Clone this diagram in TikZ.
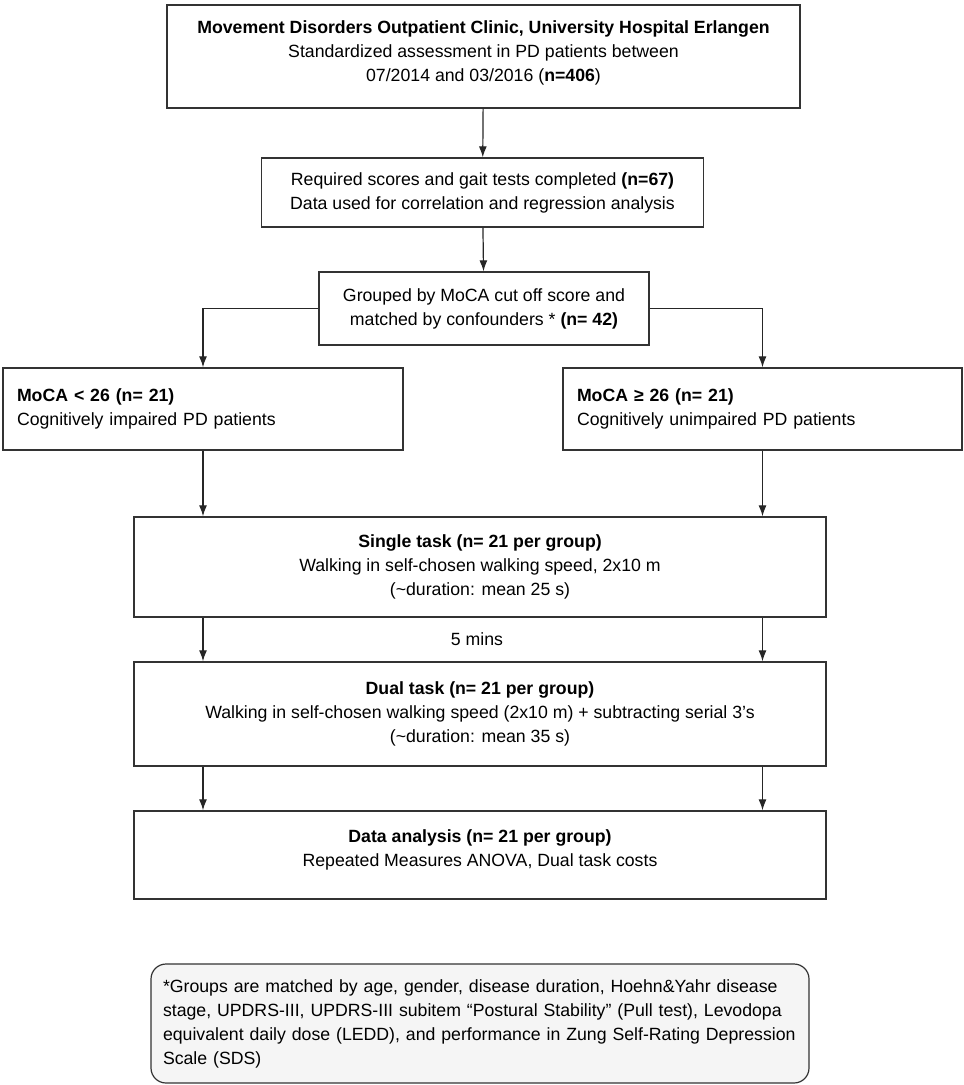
\documentclass[tikz,border=0pt]{standalone}
\usepackage{fontspec}
\setmainfont{Liberation Sans}
\usetikzlibrary{arrows.meta,positioning}

\begin{document}
\begin{tikzpicture}[x=1pt,y=-1pt,
  box/.style={draw=black!80,line width=1.4pt,align=center,inner sep=0pt,
    font=\fontsize{17.7pt}{24pt}\selectfont},
  leftbox/.style={box,align=left,inner xsep=14pt},
  arr/.style={line width=1.2pt,draw=black!85,-{Latex[length=11pt,width=8pt]}}]
\useasboundingbox (0,0) rectangle (964,1085);
%enrolment and selection
\node[box,minimum width=633pt,minimum height=103pt] (src) at (483.5,56.5)
  {\textbf{Movement Disorders Outpatient Clinic, University Hospital Erlangen}\\
   Standardized assessment in PD patients between\\
   07/2014 and 03/2016 (\textbf{n=406})\\[-14pt]};
\node[box,minimum width=442pt,minimum height=69pt] (req) at (482.5,192.5)
  {Required scores and gait tests completed \textbf{(n=67)}\\
   Data used for correlation and regression analysis};
\node[box,minimum width=330pt,minimum height=73pt] (grp) at (484,308.5)
  {Grouped by MoCA cut off score and\\
   matched by confounders * \textbf{(n= 42)}};
\draw[arr] (src) -- (req); \draw[arr] (req) -- (grp);
%the two MoCA groups
\node[leftbox,text width=372pt,minimum height=82pt] (low) at (203,409)
  {\textbf{MoCA < 26 (n= 21)}\\ Cognitively impaired PD patients\\[4pt]};
\node[leftbox,text width=371pt,minimum height=82pt] (high) at (762.5,409)
  {\textbf{MoCA ≥ 26 (n= 21)}\\ Cognitively unimpaired PD patients\\[4pt]};
\draw[arr] (grp.west) -| (low.north); \draw[arr] (grp.east) -| (high.north);
%gait tasks
\node[box,minimum width=692pt,minimum height=100pt] (single) at (480,567)
  {\textbf{Single task (n= 21 per group)}\\
   Walking in self-chosen walking speed, 2x10 m\\
   (\textasciitilde duration: mean 25 s)};
\node[box,minimum width=692pt,minimum height=104pt] (dual) at (480,714)
  {\textbf{Dual task (n= 21 per group)}\\
   Walking in self-chosen walking speed (2x10 m) + subtracting serial 3’s\\
   (\textasciitilde duration: mean 35 s)};
\node[box,minimum width=692pt,minimum height=88pt] (data) at (480,855)
  {\textbf{Data analysis (n= 21 per group)}\\
   Repeated Measures ANOVA, Dual task costs\\[-10pt]};
\node[font=\fontsize{17.7pt}{20pt}\selectfont] (pause) at (477,639) {5 mins};
\draw[arr] (low.south) -- (single.north -| low); \draw[arr] (high.south) -- (single.north -| high);
\draw[arr] (single.south -| low) -- (dual.north -| low); \draw[arr] (single.south -| high) -- (dual.north -| high);
\draw[arr] (dual.south -| low) -- (data.north -| low); \draw[arr] (dual.south -| high) -- (data.north -| high);
%footnote on the matching
\node[leftbox,inner xsep=12pt,text width=634pt,minimum height=119pt,rounded corners=15pt,
  fill=black!4,line width=1.2pt] (note) at (480,1023.5)
  {*Groups are matched by age, gender, disease duration, Hoehn\&Yahr disease\\
   stage, UPDRS-III, UPDRS-III subitem “Postural Stability” (Pull test), Levodopa\\
   equivalent daily dose (LEDD), and performance in Zung Self-Rating Depression\\
   Scale (SDS)};
\end{tikzpicture}
\end{document}
